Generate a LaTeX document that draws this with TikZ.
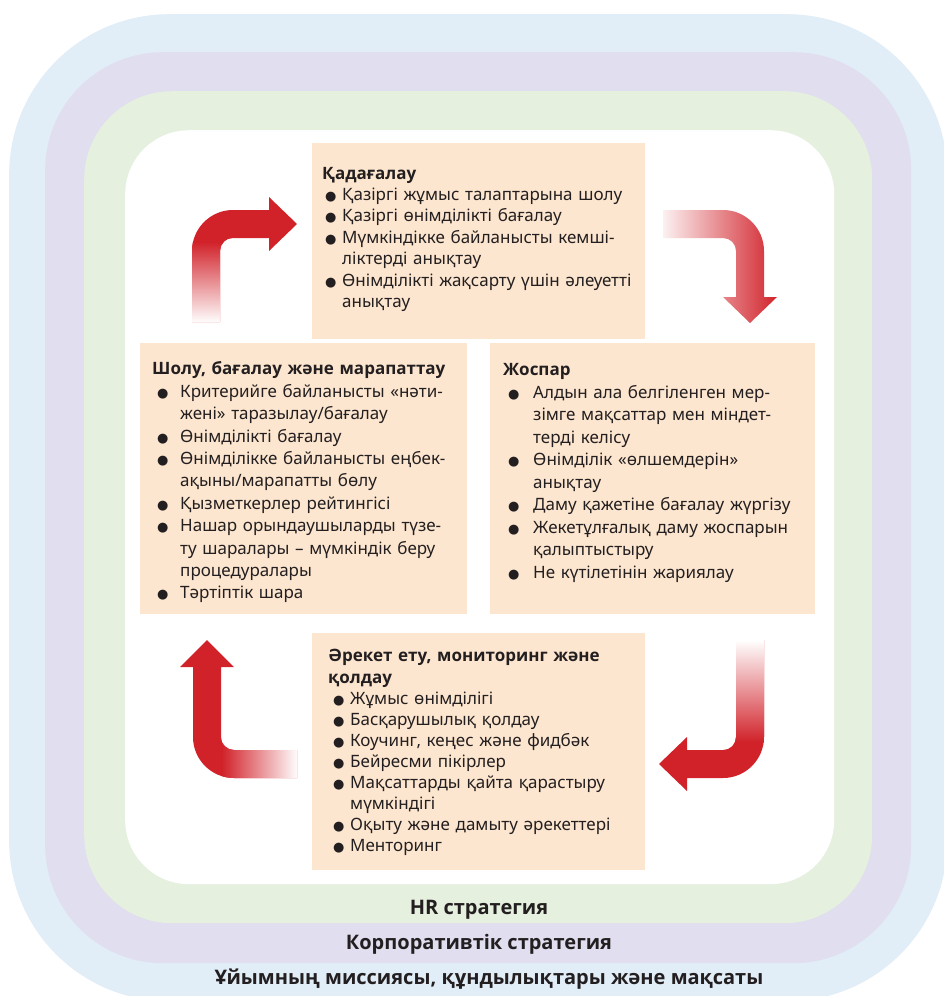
\documentclass[tikz,border=0pt]{standalone}
\usepackage{fontspec}
\setmainfont{Noto Sans}[BoldFont={Open Sans Bold}]
\newfontfamily\symfnt{DejaVu Sans}

\definecolor{missionblue}{RGB}{225,237,247}
\definecolor{corppurple}{RGB}{224,222,239}
\definecolor{hrgreen}{RGB}{229,240,223}
\definecolor{cardpeach}{RGB}{253,230,207}
\definecolor{arrowred}{RGB}{209,34,42}
\definecolor{inktext}{RGB}{35,31,32}

\newlength{\bulind}
\newlength{\bulpre}
\newcommand{\bul}{\makebox[\bulind][l]{\hspace{\bulpre}{\symfnt\fontsize{13}{13}\selectfont ●}}}
\newcommand{\cnt}{\hspace*{\bulind}}

\begin{document}
\begin{tikzpicture}[
  x=1pt,y=-1pt,
  band/.style={anchor=north west,inner sep=0pt,draw=none},
  card/.style={anchor=north west,inner sep=0pt,fill=cardpeach},
  cardtext/.style={anchor=north west,inner sep=0pt,text width=400pt,align=left,
                   text=inktext,font=\fontsize{17}{#1}\selectfont},
  bullets/.style 2 args={execute at begin node={\setlength{\bulind}{#1}\setlength{\bulpre}{#2}}},
  bandlabel/.style={anchor=base,inner sep=0pt,text=inktext,
                    font=\bfseries\fontsize{20}{24}\selectfont},
]
\useasboundingbox (0,0) rectangle (944,996);

% ---- nested strategy bands ----
\node[band,fill=missionblue,minimum width=938pt,minimum height=987pt,rounded corners=160pt]
     (mission) at (9,14) {};
\node[band,fill=corppurple,minimum width=866pt,minimum height=911pt,rounded corners=118pt]
     (corp) at (45,52) {};
\node[band,fill=hrgreen,minimum width=788pt,minimum height=832pt,rounded corners=88pt]
     (hr) at (84,91) {};
\node[band,fill=white,minimum width=709pt,minimum height=754pt,rounded corners=64pt]
     (core) at (125,130) {};

\node[bandlabel] (hrlbl) at (479,914) {HR стратегия};
\node[bandlabel] (corplbl) at (479,949) {Корпоративтік стратегия};
\node[bandlabel] (missionlbl) at (489,984) {Ұйымның миссиясы, құндылықтары және мақсаты};

% ---- the four stage cards ----
\node[card,minimum width=333pt,minimum height=196pt] (monitor) at (312,143) {};
\node[card,minimum width=325pt,minimum height=271pt] (plan) at (490,343) {};
\node[card,minimum width=327pt,minimum height=271pt] (review) at (140,343) {};
\node[card,minimum width=333pt,minimum height=237pt] (act) at (312,633) {};

\node[cardtext=21.4,bullets={20pt}{3pt}] (monitortext) at (322,164)
     {\strut\textbf{Қадағалау}\\
      \bul Қазіргі жұмыс талаптарына шолу\\
      \bul Қазіргі өнімділікті бағалау\\
      \bul Мүмкіндікке байланысты кемші-\\
      \cnt ліктерді анықтау\\
      \bul Өнімділікті жақсарту үшін әлеуетті\\
      \cnt анықтау};

\node[cardtext=22.5,bullets={30pt}{5pt}] (plantext) at (503,360)
     {\strut\textbf{Жоспар}\\
      \bul Алдын ала белгіленген мер-\\
      \cnt зімге мақсаттар мен міндет-\\
      \cnt терді келісу\\
      \bul Өнімділік «өлшемдерін»\\
      \cnt анықтау\\
      \bul Даму қажетіне бағалау жүргізу\\
      \bul Жекетұлғалық даму жоспарын\\
      \cnt қалыптыстыру\\
      \bul Не күтілетінін жариялау};

\node[cardtext=22.4,bullets={28pt}{5pt}] (reviewtext) at (152,359)
     {\strut\textbf{Шолу, бағалау және марапаттау}\\
      \bul Критерийге байланысты «нәти-\\
      \cnt жені» таразылау/бағалау\\
      \bul Өнімділікті бағалау\\
      \bul Өнімділікке байланысты еңбек-\\
      \cnt ақыны/марапатты бөлу\\
      \bul Қызметкерлер рейтингісі\\
      \bul Нашар орындаушыларды түзе-\\
      \cnt ту шаралары – мүмкіндік беру\\
      \cnt процедуралары\\
      \bul Тәртіптік шара};

\node[cardtext=21.1,bullets={22pt}{5pt}] (acttext) at (328,647)
     {\strut\textbf{Әрекет ету, мониторинг және}\\
      \textbf{қолдау}\\
      \bul Жұмыс өнімділігі\\
      \bul Басқарушылық қолдау\\
      \bul Коучинг, кеңес және фидбәк\\
      \bul Бейресми пікірлер\\
      \bul Мақсаттарды қайта қарастыру\\
      \cnt мүмкіндігі\\
      \bul Оқыту және дамыту әрекеттері\\
      \bul Менторинг};

% ---- cycle arrows ----
% review -> monitor (up, then right)
\begin{scope}
  \clip (192,322) -- (192,251) .. controls (192,228.4) and (210.4,210) .. (233,210)
        -- (269,210) -- (269,197) -- (297,224) -- (269,251) -- (269,238) -- (233,238)
        .. controls (225.8,238) and (220,243.8) .. (220,251) -- (220,322) -- cycle;
  \fill[arrowred] (185,190) rectangle (300,326);
  \shade[top color=arrowred,bottom color=white] (186,242) rectangle (226,323);
\end{scope}

% monitor -> plan (right, then down)
\begin{scope}
  \clip (663,210) -- (723,210) .. controls (745.6,210) and (764,228.4) .. (764,251)
        -- (764,297) -- (777,297) -- (750,323) -- (723,297) -- (736,297) -- (736,251)
        .. controls (736,243.8) and (730.2,238) .. (723,238) -- (663,238) -- cycle;
  \shade[left color=white,right color=arrowred] (655,195) rectangle (778,326);
\end{scope}

% plan -> act (down, then left)
\begin{scope}
  \clip (736,640) -- (764,640) -- (764,737) .. controls (764,759.6) and (745.6,778) .. (723,778)
        -- (687,778) -- (687,791) -- (659,764) -- (687,737) -- (687,750) -- (723,750)
        .. controls (730.2,750) and (736,744.2) .. (736,737) -- cycle;
  \fill[arrowred] (655,635) rectangle (780,795);
  \shade[top color=white,bottom color=arrowred] (730,640) rectangle (770,742);
\end{scope}

% act -> review (left, then up)
\begin{scope}
  \clip (297,778) -- (234,778) .. controls (211.4,778) and (193,759.6) .. (193,737)
        -- (193,667) -- (180,667) -- (207,640) -- (234,667) -- (221,667) -- (221,737)
        .. controls (221,744.2) and (226.8,750) .. (234,750) -- (297,750) -- cycle;
  \fill[arrowred] (175,635) rectangle (300,782);
  \shade[left color=arrowred,right color=white] (222,745) rectangle (298,782);
\end{scope}

\end{tikzpicture}
\end{document}
